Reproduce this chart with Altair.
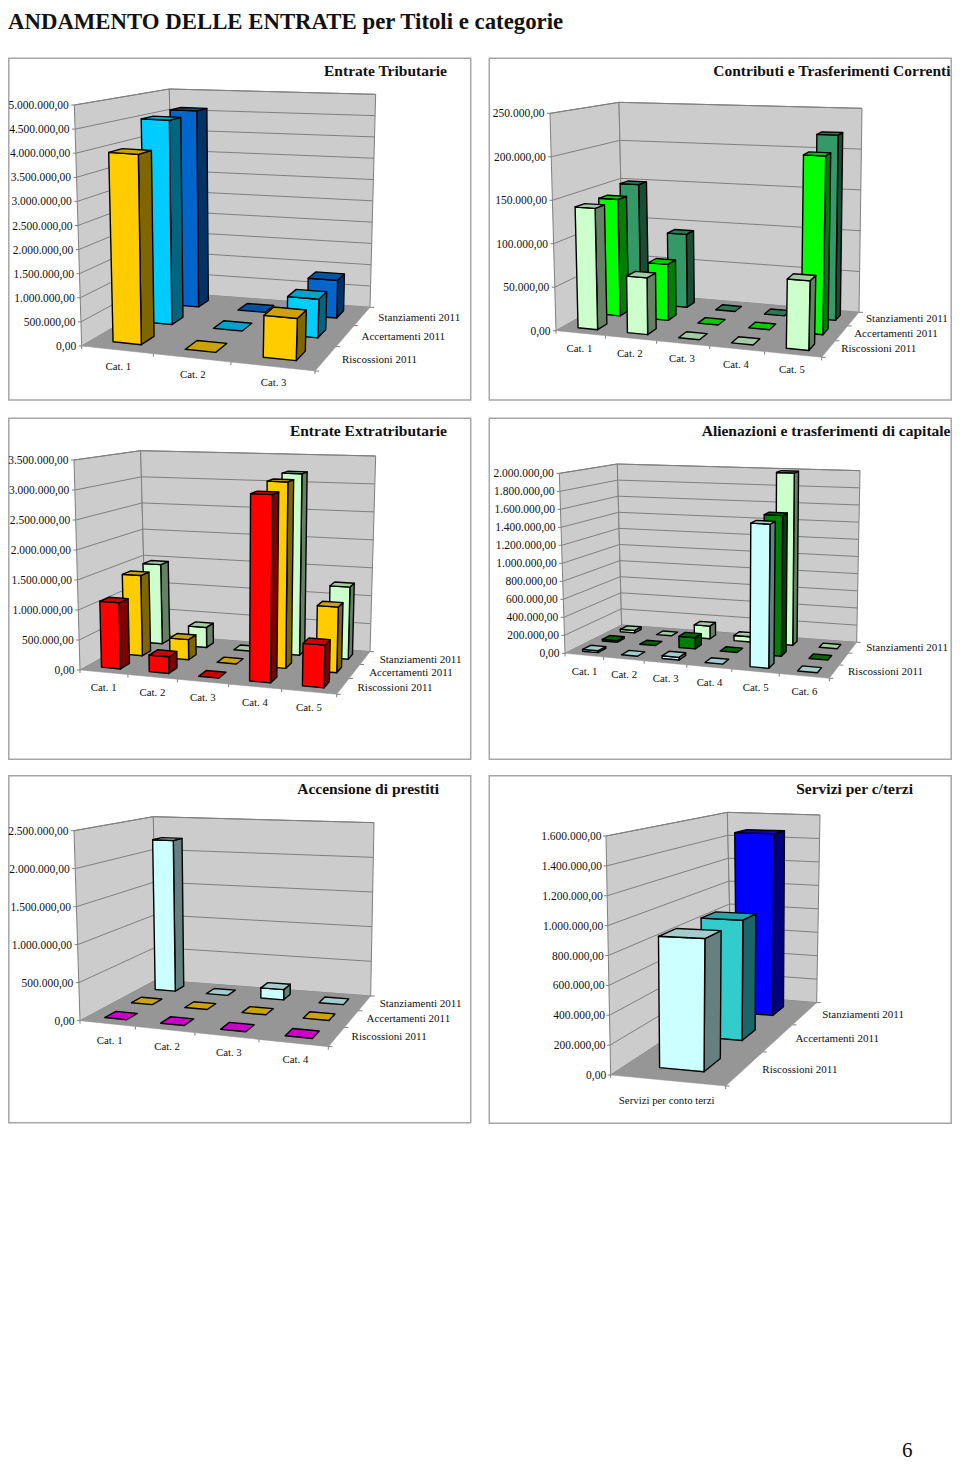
import altair as alt
import numpy as np
import pandas as pd

MAIN_TITLE = "ANDAMENTO DELLE ENTRATE per Titoli e categorie"
PAGE_NUMBER = "6"
SERIES = ["Riscossioni   2011", "Accertamenti 2011", "Stanziamenti 2011"]
FONT = "Liberation Serif"

# ---- values ----
P1_CATS = ["Cat. 1", "Cat. 2", "Cat. 3"]
P1_RISC = [3990000, 0, 860000]
P1_ACC = [4540000, 0, 835000]
P1_STAN = [4600000, 0, 860000]
P1_TICKS = ["0,00", "500.000,00", "1.000.000,00", "1.500.000,00", "2.000.000,00", "2.500.000,00",
            "3.000.000,00", "3.500.000,00", "4.000.000,00", "4.500.000,00", "5.000.000,00"]

P2_CATS = ["Cat. 1", "Cat. 2", "Cat. 3", "Cat. 4", "Cat. 5"]
P2_RISC = [140500, 65000, 0, 0, 77000]
P2_ACC = [141000, 67000, 0, 0, 206000]
P2_STAN = [150000, 91000, 0, 0, 222000]
P2_TICKS = ["0,00", "50.000,00", "100.000,00", "150.000,00", "200.000,00", "250.000,00"]

P3_CATS = ["Cat. 1", "Cat. 2", "Cat. 3", "Cat. 4", "Cat. 5"]
P3_RISC = [1110000, 276000, 0, 3050000, 684000]
P3_ACC = [1410000, 350000, 0, 3160000, 1100000]
P3_STAN = [1455000, 363000, 0, 3210000, 1260000]
P3_TICKS = ["0,00", "500.000,00", "1.000.000,00", "1.500.000,00", "2.000.000,00",
            "2.500.000,00", "3.000.000,00", "3.500.000,00"]

P4_CATS = ["Cat. 1", "Cat. 2", "Cat. 3", "Cat. 4", "Cat. 5", "Cat. 6"]
P4_RISC = [20000, 0, 30000, 0, 1550000, 0]
P4_ACC = [20000, 0, 128000, 0, 1570000, 0]
P4_STAN = [30000, 0, 150000, 60000, 1990000, 0]
P4_TICKS = ["0,00", "200.000,00", "400.000,00", "600.000,00", "800.000,00", "1.000.000,00",
            "1.200.000,00", "1.400.000,00", "1.600.000,00", "1.800.000,00", "2.000.000,00"]

P5_CATS = ["Cat. 1", "Cat. 2", "Cat. 3", "Cat. 4"]
P5_RISC = [0, 0, 0, 0]
P5_ACC = [0, 0, 0, 0]
P5_STAN = [2210000, 0, 146000, 0]
P5_TICKS = ["0,00", "500.000,00", "1.000.000,00", "1.500.000,00", "2.000.000,00", "2.500.000,00"]

P6_CATS = ["Servizi per conto terzi"]
P6_RISC = [897000]
P6_ACC = [895000]
P6_STAN = [1475000]
P6_TICKS = ["0,00", "200.000,00", "400.000,00", "600.000,00", "800.000,00", "1.000.000,00",
            "1.200.000,00", "1.400.000,00", "1.600.000,00"]

# ---- colours: (front, side, top) per series ----
GOLD = ("#FFCC00", "#806600", "#CCA300")
SKY = ("#00CCFF", "#006680", "#00A3CC")
BLUE = ("#0066CC", "#003366", "#0052A3")
MINT = ("#CCFFCC", "#668066", "#A3CCA3")
LIME = ("#00FF00", "#008000", "#00CC00")
SEA = ("#339966", "#1A4D33", "#297A52")
RED = ("#FF0000", "#800000", "#CC0000")
DKGREEN = ("#008000", "#004000", "#006600")
ICE = ("#CCFFFF", "#668080", "#A3CCCC")
MAGENTA = ("#FF00FF", "#800080", "#CC00CC")
TEAL = ("#33CCCC", "#1A6666", "#29A3A3")
PURE = ("#0000FF", "#000080", "#0000CC")

WALL = "#CCCCCC"
FLOOR = "#969696"
GRID = "#7F7F7F"
FRAME = "#A6A6A6"
BAR_FRACTION = 0.4


def zoomed(offset, *points):
    return [(offset[0] + p[0] / 3, offset[1] + p[1] / 3) for p in points]


# Panels: corners are FL, FR, BR, BL of the floor and of the ceiling of the chart's box.
PANELS = [
    dict(title="Entrate Tributarie", cats=P1_CATS, series=[P1_RISC, P1_ACC, P1_STAN], ticks=P1_TICKS, vmax=5000000,
         colors=[GOLD, SKY, BLUE], names=SERIES, frame=(4.3, 58.3, 470.7, 400), title_at=(447, 71),
         floor=zoomed((0, 50), (245, 888), (945, 963), (1110, 772), (518, 728)),
         ceil=zoomed((0, 50), (223, 165), (970, 212), (1127, 133), (508, 117)),
         cat_off=(1.5, 17), ser_off=(16, 1.5), tick_gap=5.5),
    dict(title="Contributi e Trasferimenti Correnti", cats=P2_CATS, series=[P2_RISC, P2_ACC, P2_STAN], ticks=P2_TICKS,
         vmax=250000, colors=[MINT, LIME, SEA], names=SERIES, frame=(489.3, 58.3, 956.7, 400), title_at=(950.5, 71),
         floor=zoomed((480, 50), (228, 842), (1025, 922), (1137, 787), (430, 727)),
         ceil=zoomed((480, 50), (210, 190), (1040, 232), (1146, 175), (417, 157)),
         cat_off=(-1, 16), ser_off=(12.5, 0.5), tick_gap=5.5),
    dict(title="Entrate Extratributarie", cats=P3_CATS, series=[P3_RISC, P3_ACC, P3_STAN], ticks=P3_TICKS,
         vmax=3500000, colors=[RED, GOLD, MINT], names=SERIES, frame=(4.3, 418.3, 470.7, 759.3), title_at=(447, 431),
         floor=zoomed((0, 410), (240, 780), (1010, 853), (1110, 725), (437, 671)),
         ceil=zoomed((0, 410), (222, 150), (1025, 185), (1127, 138), (422, 122)),
         cat_off=(0, 16), ser_off=(14.5, 2), tick_gap=5.5),
    dict(title="Alienazioni e trasferimenti di capitale", cats=P4_CATS, series=[P4_RISC, P4_ACC, P4_STAN], ticks=P4_TICKS,
         vmax=2000000, colors=[ICE, DKGREEN, MINT], names=["Riscossioni   2011", "", "Stanziamenti 2011"],
         frame=(489.3, 418.3, 956.7, 759.3), title_at=(950.5, 431),
         floor=zoomed((480, 410), (255, 730), (1048, 805), (1130, 697), (425, 645)),
         ceil=zoomed((480, 410), (238, 190), (1060, 233), (1140, 182), (412, 162)),
         cat_off=(0.5, 16.5), ser_off=(13.5, 0.5), tick_gap=5.5),
    dict(title="Accensione di prestiti", cats=P5_CATS, series=[P5_RISC, P5_ACC, P5_STAN], ticks=P5_TICKS,
         vmax=2500000, colors=[MAGENTA, GOLD, ICE], names=SERIES, frame=(4.3, 775.7, 470.7, 1122.7), title_at=(439, 789),
         floor=zoomed((0, 770), (240, 752), (985, 830), (1112, 678), (468, 630)),
         ceil=zoomed((0, 770), (222, 182), (1000, 230), (1122, 158), (460, 140)),
         cat_off=(2.5, 17.5), ser_off=(15, 0.5), tick_gap=5.5),
    dict(title="Servizi per c/terzi", cats=P6_CATS, series=[P6_RISC, P6_ACC, P6_STAN], ticks=P6_TICKS,
         vmax=1600000, colors=[ICE, TEAL, PURE], names=SERIES, frame=(489.3, 775.7, 956.7, 1123.3), title_at=(913, 789),
         floor=zoomed((480, 770), (392, 915), (737, 948), (1010, 698), (755, 677)),
         ceil=zoomed((480, 770), (378, 198), (750, 203), (1020, 135), (742, 127)),
         cat_off=(-1, 21), ser_off=(17, 1.5), tick_gap=4.5),
]


def corner_weights(quad):
    """Projective weight of the four corners of the floor: the box's foreshortening."""
    corners = [(0, 0), (1, 0), (1, 1), (0, 1)]
    A, b = [], []
    for (u, v), (x, y) in zip(corners, quad):
        A.append([u, v, 1, 0, 0, 0, -u * x, -v * x])
        A.append([0, 0, 0, u, v, 1, -u * y, -v * y])
        b += [x, y]
    h = np.linalg.solve(np.array(A, float), np.array(b, float))
    return [h[6] * u + h[7] * v + 1 for u, v in corners]


def blend(quad, lam, u, v):
    b = np.array([(1 - u) * (1 - v), u * (1 - v), u * v, (1 - u) * v]) * np.array(lam)
    return (np.array(quad).T @ b) / b.sum()


polys, rules, frames = [], [], []
tick_txt, cat_txt, ser_txt, title_txt = [], [], [], []
poly_id = 0

W, H = 944, 1456


def add_poly(points, fill, stroke, sw):
    global poly_id
    poly_id += 1
    for i, (x, y) in enumerate(points):
        polys.append(dict(poly=poly_id, idx=i, x=float(x), y=float(y), fill=fill, stroke=stroke, sw=sw))


def add_rule(a, b):
    rules.append(dict(x=float(a[0]), y=float(a[1]), x2=float(b[0]), y2=float(b[1])))


for p in PANELS:
    l, t, r, btm = p["frame"]
    frames.append(dict(x=max(l, 8.8), y=t, x2=min(r, 8 + W - 0.8), y2=btm))
    title_txt.append(dict(x=p["title_at"][0], y=p["title_at"][1], text=p["title"]))
    lam = corner_weights(p["floor"])

    def P(u, v, w):
        a, c = blend(p["floor"], lam, u, v), blend(p["ceil"], lam, u, v)
        return a + w * (c - a)

    # walls and floor
    add_poly([P(0, 0, 0), P(0, 1, 0), P(0, 1, 1), P(0, 0, 1)], WALL, GRID, 1)
    add_poly([P(0, 1, 0), P(1, 1, 0), P(1, 1, 1), P(0, 1, 1)], WALL, GRID, 1)
    add_poly([P(0, 0, 0), P(1, 0, 0), P(1, 1, 0), P(0, 1, 0)], FLOOR, FLOOR, 0.5)

    # value gridlines, ticks and labels
    n_ticks = len(p["ticks"])
    for i, label in enumerate(p["ticks"]):
        w = i / (n_ticks - 1)
        front, corner, back = P(0, 0, w), P(0, 1, w), P(1, 1, w)
        if i > 0:
            add_rule(front, corner)
            add_rule(corner, back)
        add_rule(front, front + np.array([-3, 0]))
        tick_txt.append(dict(x=float(front[0] - p["tick_gap"]), y=float(front[1] + 1), text=label))

    # category axis
    n_cats = len(p["cats"])
    for i in range(n_cats + 1):
        a = P(i / n_cats, 0, 0)
        add_rule(a, a + np.array([0, 3]))
    for i, c in enumerate(p["cats"]):
        a = P((i + 0.5) / n_cats, 0, 0)
        cat_txt.append(dict(x=float(a[0] + p["cat_off"][0]), y=float(a[1] + p["cat_off"][1]), text=c))

    # series axis
    n_ser = len(p["series"])
    for i in range(n_ser + 1):
        a = P(1, i / n_ser, 0)
        add_rule(a, a + np.array([4, 0]))
    for i, name in enumerate(p["names"]):
        if name:
            a = P(1, (i + 0.5) / n_ser, 0)
            ser_txt.append(dict(x=float(a[0] + p["ser_off"][0]), y=float(a[1] + p["ser_off"][1]), text=name))

    # bars, painted from the back row to the front one
    half = BAR_FRACTION / 2
    for s in range(n_ser - 1, -1, -1):
        front_c, side_c, top_c = p["colors"][s]
        v0, v1 = (s + 0.5 - half) / n_ser, (s + 0.5 + half) / n_ser
        for c in range(n_cats):
            u0, u1 = (c + 0.5 - half) / n_cats, (c + 0.5 + half) / n_cats
            w = p["series"][s][c] / p["vmax"]
            if w > 0:
                add_poly([P(u1, v0, 0), P(u1, v1, 0), P(u1, v1, w), P(u1, v0, w)], side_c, "#000000", 1.4)
                add_poly([P(u0, v0, 0), P(u1, v0, 0), P(u1, v0, w), P(u0, v0, w)], front_c, "#000000", 1.4)
            add_poly([P(u0, v0, w), P(u1, v0, w), P(u1, v1, w), P(u0, v1, w)], top_c, "#000000", 1.4)

xs = alt.Scale(domain=[8, 8 + W], range=[0, W])
ys = alt.Scale(domain=[8 + H, 8], range=[H, 0])
X = alt.X("x:Q", scale=xs, axis=None)
Y = alt.Y("y:Q", scale=ys, axis=None)

frame_layer = alt.Chart(pd.DataFrame(frames)).mark_rect(fill="white", stroke=FRAME, strokeWidth=1.5).encode(
    x=X, y=Y, x2="x2:Q", y2="y2:Q")

poly_df = pd.DataFrame(polys)
wall_ids = poly_df["fill"].isin([WALL, FLOOR])
poly_enc = dict(x=X, y=Y, detail="poly:N", order="idx:Q",
                fill=alt.Fill("fill:N", scale=None), stroke=alt.Stroke("stroke:N", scale=None),
                strokeWidth=alt.StrokeWidth("sw:Q", scale=None))
box_layer = alt.Chart(poly_df[wall_ids]).mark_line(interpolate="linear-closed", strokeJoin="round").encode(**poly_enc)
bar_layer = alt.Chart(poly_df[~wall_ids]).mark_line(interpolate="linear-closed", strokeJoin="round").encode(**poly_enc)

rule_layer = alt.Chart(pd.DataFrame(rules)).mark_rule(color=GRID, strokeWidth=1).encode(x=X, y=Y, x2="x2:Q", y2="y2:Q")


def text_layer(rows, **kw):
    return alt.Chart(pd.DataFrame(rows)).mark_text(font=FONT, color="#111111", baseline="middle", **kw).encode(
        x=X, y=Y, text="text:N")


layers = [
    frame_layer, box_layer, rule_layer, bar_layer,
    text_layer(tick_txt, align="right", fontSize=11.5),
    text_layer(cat_txt, align="center", fontSize=10.8),
    text_layer(ser_txt, align="left", fontSize=11),
    text_layer(title_txt, align="right", fontSize=15.5, fontWeight="bold"),
    text_layer([dict(x=8, y=21.5, text=MAIN_TITLE)], align="left", fontSize=22.8, fontWeight="bold"),
    text_layer([dict(x=902, y=1451, text=PAGE_NUMBER)], align="left", fontSize=21),
]

chart = alt.layer(*layers).properties(width=W, height=H, padding=0, background="white",
                                      autosize=alt.AutoSizeParams(type="none")).configure_view(stroke=None)
chart.save("out.html", embed_options={"renderer": "svg", "actions": False})
